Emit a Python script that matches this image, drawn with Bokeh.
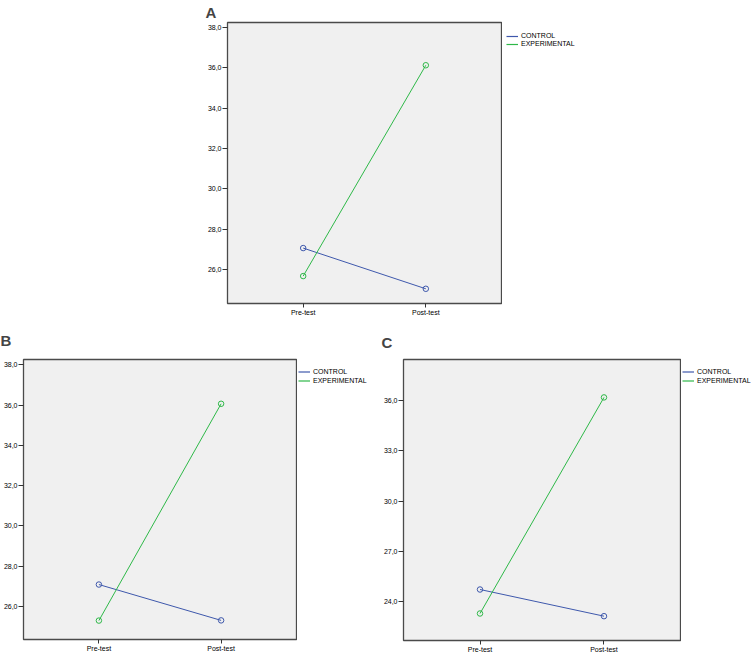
from bokeh.plotting import figure
from bokeh.models import FactorRange, Range1d, FixedTicker, Legend, LegendItem, Spacer
from bokeh.layouts import column, row
from bokeh.embed import file_html
from bokeh.resources import INLINE

# ---------------- data ----------------
categories = ["Pre-test", "Post-test"]
series_names = ["CONTROL", "EXPERIMENTAL"]

control_A = [27.06, 25.04]
experimental_A = [25.67, 36.13]

control_B = [27.09, 25.31]
experimental_B = [25.30, 36.07]

control_C = [24.74, 23.15]
experimental_C = [23.31, 36.19]

yticks_AB = [26, 28, 30, 32, 34, 36, 38]
ytick_labels_AB = ["26,0", "28,0", "30,0", "32,0", "34,0", "36,0", "38,0"]
yticks_C = [24, 27, 30, 33, 36]
ytick_labels_C = ["24,0", "27,0", "30,0", "33,0", "36,0"]

yrange_A = (24.31, 38.25)
yrange_B = (24.36, 38.27)
yrange_C = (21.70, 38.45)

# ---------------- style ----------------
BLUE = "#3e58ac"
GREEN = "#2eb848"
COLORS = [BLUE, GREEN]
FONT = "Liberation Sans"
FRAME_BG = "#f0f0f0"
EDGE = "#4a4a4a"


def make_panel(letter, control, experimental, yrange, yticks, ylabels,
               frame_w, frame_h, left, top, bottom,
               title_offset, title_standoff, title_valign):
    right = 1
    p = figure(x_range=FactorRange(factors=categories, range_padding=0.117),
               y_range=Range1d(*yrange),
               width=left + frame_w + right, height=top + frame_h + bottom,
               min_border_left=left, min_border_right=right,
               min_border_top=top, min_border_bottom=bottom,
               output_backend="svg", toolbar_location=None)
    p.background_fill_color = FRAME_BG
    p.border_fill_color = "white"
    p.outline_line_color = EDGE
    p.outline_line_width = 1.3
    p.xgrid.visible = False
    p.ygrid.visible = False

    # panel letter
    p.title.text = letter
    p.title.text_font = FONT
    p.title.text_font_size = "15px"
    p.title.text_font_style = "bold"
    p.title.align = "left"
    p.title.vertical_align = title_valign
    p.title.offset = title_offset
    p.title.standoff = title_standoff

    for ax in (p.xaxis[0], p.yaxis[0]):
        ax.axis_line_color = None
        ax.major_tick_line_color = "#333333"
        ax.major_tick_in = 0
        ax.minor_tick_line_color = None
        ax.major_label_text_font = FONT
        ax.major_label_text_font_size = "7px"
        ax.major_label_text_color = "black"
    p.yaxis.ticker = FixedTicker(ticks=yticks)
    p.yaxis.major_label_overrides = dict(zip(yticks, ylabels))
    p.yaxis.major_tick_out = 5
    p.yaxis.major_label_standoff = 1
    p.xaxis.major_tick_out = 4
    p.xaxis.major_label_standoff = 1

    for vals, col in zip((control, experimental), COLORS):
        p.line(categories, vals, line_color=col, line_width=1)
        p.scatter(categories, vals, marker="circle", size=5.5,
                  fill_color=None, line_color=col, line_width=1)
    return p


def make_legend_panel(series, width, frame_h, top, bottom, dx, row1, step=9):
    """Legend area to the right of a panel (SPSS-style outside legend).
    The series are drawn again here only so the legend has renderers; their
    values lie outside this area's y range, so only the legend shows."""
    q = figure(width=width, height=top + frame_h + bottom,
               x_range=FactorRange(factors=categories), y_range=Range1d(0, 1),
               x_axis_type=None, y_axis_type=None,
               min_border_left=0, min_border_right=0,
               min_border_top=top, min_border_bottom=bottom,
               output_backend="svg", toolbar_location=None)
    q.outline_line_color = None
    q.background_fill_color = "white"
    q.border_fill_color = "white"
    q.grid.visible = False
    rs = [q.line(categories, vals, line_color=c, line_width=1.2)
          for vals, c in zip(series, COLORS)]
    legend_h = 2 * step
    legend = Legend(
        items=[LegendItem(label=n, renderers=[r]) for n, r in zip(series_names, rs)],
        location=(dx, frame_h - (row1 - step / 2) - legend_h),
        glyph_width=12, glyph_height=step, label_height=step,
        label_standoff=3, spacing=0, padding=0, margin=0,
        border_line_color=None, background_fill_alpha=0,
        label_text_font=FONT, label_text_font_size="7px",
        label_text_color="black")
    q.add_layout(legend, "center")
    return q


pA = make_panel("A", control_A, experimental_A, yrange_A, yticks_AB, ytick_labels_AB,
                frame_w=277, frame_h=281, left=20, top=22, bottom=16,
                title_offset=-22, title_standoff=0, title_valign="top")
lA = make_legend_panel((control_A, experimental_A), 86, 281, 22, 16,
                       dx=4, row1=13.5, step=8)

pB = make_panel("B", control_B, experimental_B, yrange_B, yticks_AB, ytick_labels_AB,
                frame_w=275, frame_h=282, left=21, top=38, bottom=15,
                title_offset=-23, title_standoff=21, title_valign="bottom")
lB = make_legend_panel((control_B, experimental_B), 83, 282, 38, 15,
                       dx=1, row1=14.5, step=9)

pC = make_panel("C", control_C, experimental_C, yrange_C, yticks_C, ytick_labels_C,
                frame_w=277, frame_h=285, left=23, top=38, bottom=13,
                title_offset=-22, title_standoff=18, title_valign="bottom")
lC = make_legend_panel((control_C, experimental_C), 72, 285, 38, 13,
                       dx=1, row1=16.5, step=9)

layout = column(row(Spacer(width=204, height=319), pA, lA),
                row(pB, lB, pC, lC), spacing=0)

open("out.html", "w").write(file_html(layout, INLINE))
